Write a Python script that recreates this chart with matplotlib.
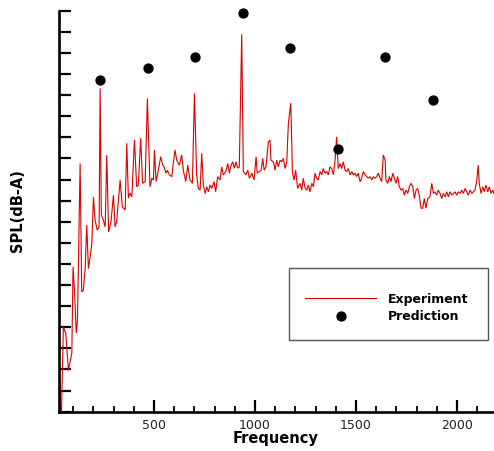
import matplotlib
matplotlib.use("Agg")
import matplotlib.pyplot as plt
from matplotlib.patches import Rectangle
from matplotlib.lines import Line2D
from matplotlib.ticker import MultipleLocator

# ---------------- data ----------------
exp_freq = [
    22, 32, 40, 51, 63, 76, 88, 93, 99, 106, 115, 121, 134, 142, 150, 159, 167, 175, 183, 192,
    200, 208, 219, 228, 233, 239, 249, 258, 266, 275, 287, 299, 307, 315, 332, 343, 357, 365, 373, 381,
    390, 403, 414, 422, 434, 443, 456, 467, 480, 489, 497, 502, 510, 521, 533, 543, 550, 559, 566, 576,
    588, 596, 604, 612, 625, 637, 645, 657, 667, 678, 690, 700, 711, 719, 728, 736, 744, 753, 761, 769,
    777, 786, 797, 805, 815, 827, 835, 843, 855, 865, 873, 881, 890, 898, 906, 914, 922, 934, 942, 954,
    964, 972, 984, 995, 1005, 1011, 1021, 1030, 1038, 1045, 1054, 1066, 1074, 1079, 1091, 1099, 1107, 1115, 1124, 1132,
    1140, 1149, 1157, 1165, 1177, 1185, 1193, 1201, 1211, 1223, 1231, 1239, 1248, 1256, 1264, 1272, 1281, 1289, 1297, 1305,
    1313, 1322, 1330, 1338, 1347, 1355, 1363, 1371, 1380, 1388, 1396, 1404, 1412, 1421, 1429, 1437, 1446, 1454, 1462, 1470,
    1479, 1487, 1495, 1503, 1511, 1520, 1528, 1536, 1545, 1553, 1561, 1569, 1578, 1586, 1594, 1602, 1610, 1619, 1627, 1635,
    1644, 1648, 1657, 1665, 1673, 1682, 1690, 1698, 1706, 1714, 1723, 1731, 1739, 1747, 1756, 1764, 1772, 1781, 1789, 1797,
    1805, 1813, 1822, 1830, 1838, 1846, 1855, 1866, 1875, 1883, 1891, 1899, 1907, 1916, 1924, 1932, 1941, 1949, 1957, 1965,
    1974, 1982, 1990, 1998, 2006, 2015, 2023, 2031, 2040, 2048, 2056, 2064, 2073, 2081, 2089, 2097, 2105, 2110, 2119, 2127,
    2135, 2143, 2152, 2160, 2168, 2177, 2182,
]
exp_spl = [
    -4.4, 8.7, -4.4, 20.1, 18.5, 9.8, 12.7, 13.9, 34.3, 28.8, 18.6, 21.7, 58.8, 28.4, 28.8, 34.0, 44.2, 33.9, 36.4, 39.9,
    50.9, 45.4, 43.0, 43.8, 76.6, 46.6, 45.4, 43.8, 60.8, 42.6, 45.0, 51.3, 43.8, 45.0, 54.9, 48.5, 47.8, 63.6, 50.6, 51.8,
    50.9, 64.4, 53.3, 53.7, 64.8, 54.1, 54.5, 74.2, 53.3, 55.3, 54.9, 62.0, 54.5, 57.2, 60.4, 58.4, 58.0, 56.5, 57.2, 56.1,
    55.7, 59.2, 62.0, 59.6, 58.4, 60.8, 57.2, 54.5, 58.4, 54.9, 54.1, 75.4, 56.1, 52.9, 52.5, 61.2, 53.7, 51.7, 53.3, 52.1,
    53.7, 52.9, 54.5, 52.1, 55.7, 54.9, 58.0, 56.1, 56.9, 58.8, 56.5, 58.4, 59.2, 57.7, 59.2, 57.7, 58.0, 89.4, 56.9, 56.1,
    57.2, 55.3, 56.5, 54.9, 60.4, 56.5, 56.9, 57.2, 60.0, 57.2, 58.0, 63.9, 64.3, 59.6, 59.2, 57.2, 59.6, 58.0, 59.6, 59.2,
    60.0, 57.6, 59.2, 68.3, 73.1, 56.9, 54.9, 57.2, 52.9, 54.1, 52.5, 55.3, 52.9, 52.5, 53.7, 52.1, 54.1, 53.3, 56.5, 55.3,
    54.9, 56.9, 56.1, 57.6, 56.5, 56.9, 56.1, 58.0, 57.6, 56.1, 59.6, 65.1, 57.6, 58.8, 57.6, 59.2, 57.2, 56.9, 57.6, 56.1,
    56.9, 56.1, 56.5, 55.7, 56.5, 54.5, 55.3, 56.9, 56.1, 55.7, 55.3, 55.7, 54.9, 55.7, 55.3, 55.7, 56.5, 55.3, 54.5, 60.8,
    59.6, 54.9, 54.1, 55.7, 54.5, 56.5, 55.3, 54.1, 55.7, 53.3, 52.5, 52.9, 51.3, 52.5, 51.7, 53.3, 54.1, 53.3, 50.5, 52.5,
    52.9, 51.3, 48.2, 48.2, 50.5, 48.2, 50.5, 50.9, 54.1, 51.7, 52.1, 51.3, 52.5, 51.7, 50.5, 51.7, 50.9, 52.1, 50.9, 52.1,
    51.3, 51.7, 52.1, 51.3, 52.1, 51.7, 52.5, 51.7, 52.9, 52.1, 51.3, 52.5, 51.7, 52.1, 52.5, 54.5, 58.4, 54.1, 51.7, 53.3,
    52.1, 53.7, 52.1, 53.3, 51.7, 52.5, 51.7,
]
pred_freq = [233, 470, 705, 939, 1173, 1409, 1644, 1880]
pred_spl = [78.5, 81.35, 83.95, 94.5, 86.1, 62.3, 83.95, 73.8]

series_labels = ["Experiment", "Prediction"]
x_label = "Frequency"
y_label = "SPL(dB-A)"

# ---------------- figure ----------------
W, H = 494, 451
fig = plt.figure(figsize=(W / 100, H / 100), dpi=100)
ax_left, ax_bottom, ax_top = 58.5, 411.7, 10.7
ax = fig.add_axes([ax_left / W, (H - ax_bottom) / H, (W - ax_left) / W, (ax_bottom - ax_top) / H])

red = "#d80000"
ax.plot(exp_freq, exp_spl, color=red, lw=0.8, solid_joinstyle="miter")
ax.plot(pred_freq, pred_spl, "o", color="black", ms=6.4, clip_on=False, zorder=5)

ax.set_xlim(27, 2183)
ax.set_ylim(0, 95)

for s in ["top", "right"]:
    ax.spines[s].set_visible(False)
for s in ["left", "bottom"]:
    ax.spines[s].set_linewidth(1.9)

ax.xaxis.set_major_locator(MultipleLocator(500))
ax.xaxis.set_minor_locator(MultipleLocator(100))
ax.yaxis.set_major_locator(MultipleLocator(5))
ax.tick_params(axis="x", which="major", direction="in", length=8.5, width=1.6,
               labelsize=9, pad=5, labelcolor="#222222")
ax.tick_params(axis="x", which="minor", direction="in", length=4.2, width=1.3)
ax.tick_params(axis="y", which="major", direction="in", length=8.5, width=1.6, labelleft=False)

fig.text(276 / W, 1 - 439 / H, x_label, ha="center", va="center",
         fontsize=10.5, fontweight="bold")
fig.text(18 / W, 1 - 210.5 / H, y_label, ha="center", va="center", rotation=90,
         fontsize=10.5, fontweight="bold")

# legend box
fig.patches.append(Rectangle((288.7 / W, 1 - 340 / H), (487.7 - 288.7) / W, (340 - 267.7) / H,
                             transform=fig.transFigure, fill=False, edgecolor="#555555", lw=1.0))
handles = [Line2D([], [], color=red, lw=0.8),
           Line2D([], [], marker="o", ls="none", color="black", ms=6.4)]
fig.legend(handles, series_labels, loc="center left",
           bbox_to_anchor=(305 / W, 1 - 308 / H), frameon=False,
           prop={"weight": "bold", "size": 9}, handlelength=5.7, handletextpad=0.9,
           labelspacing=0.4, borderpad=0, borderaxespad=0)

fig.savefig("out.png", dpi=100)
